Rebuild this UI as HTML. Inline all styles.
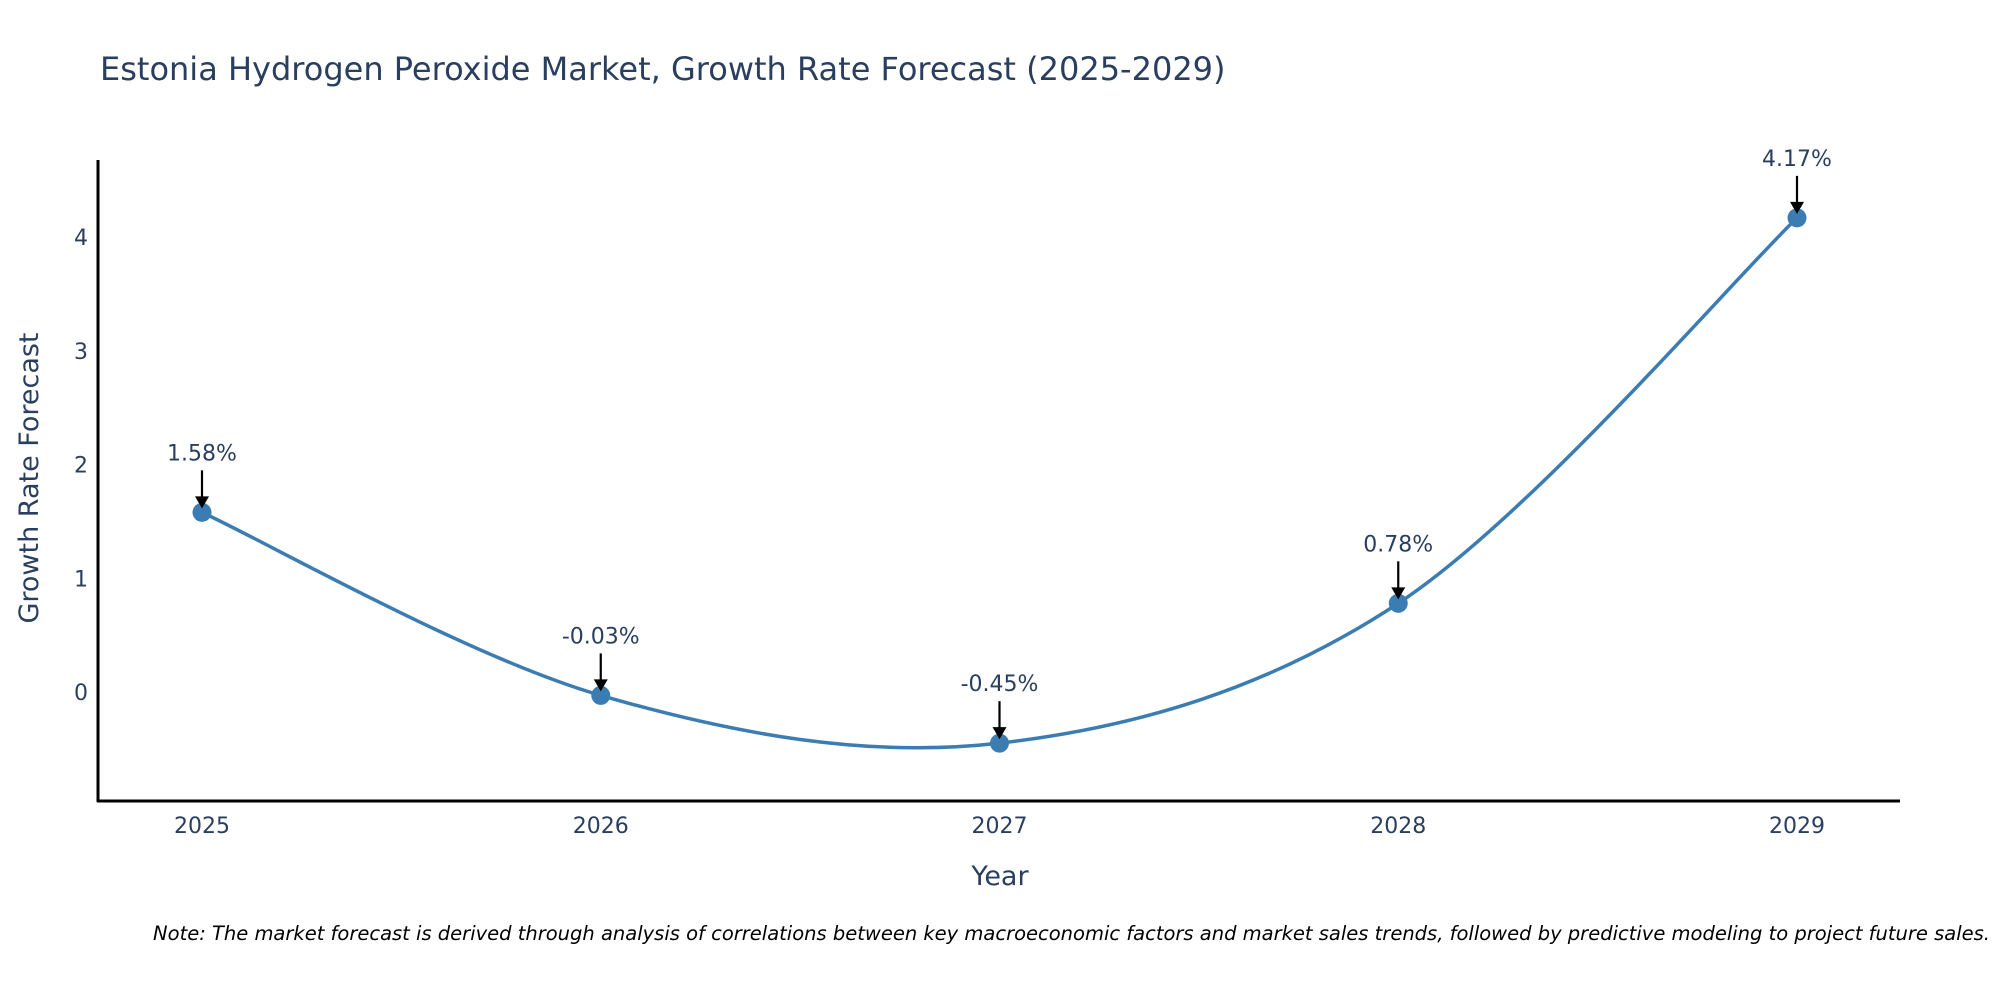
<!DOCTYPE html>
<html><head><meta charset="utf-8"><style>
body{margin:0;background:#fff}
svg text{font-family:"DejaVu Sans","Liberation Sans",sans-serif;fill:#2a3f5f}
</style></head><body>
<svg id="chart" width="2000" height="1000" xmlns="http://www.w3.org/2000/svg">
<text x="100" y="80" font-size="32">Estonia Hydrogen Peroxide Market, Growth Rate Forecast (2025-2029)</text>
<g id="yticks"></g>
<g id="xticks"></g>
<line x1="98" y1="160" x2="98" y2="802" stroke="#000" stroke-width="3"/>
<line x1="97" y1="801" x2="1900" y2="801" stroke="#000" stroke-width="3"/>
<path id="line" fill="none" stroke="#3b7db3" stroke-width="3.5"/>
<g id="marks"></g>
<text transform="translate(38,478) rotate(-90)" text-anchor="middle" font-size="27">Growth Rate Forecast</text>
<text x="1000" y="885" text-anchor="middle" font-size="27">Year</text>
<text x="1990" y="940" text-anchor="end" font-size="19.5" font-style="italic" style="fill:#000">Note: The market forecast is derived through analysis of correlations between key macroeconomic factors and market sales trends, followed by predictive modeling to project future sales.</text>
</svg>
<script>
const years=[2025,2026,2027,2028,2029];
const values=[1.58,-0.03,-0.45,0.78,4.17];
const labels=["1.58%","-0.03%","-0.45%","0.78%","4.17%"];
const yTicks=[0,1,2,3,4];
const NS="http://www.w3.org/2000/svg";
const x=v=>202+(v-2025)*398.75;
const y=v=>692-v*113.7;
function mk(t,a,p){const e=document.createElementNS(NS,t);for(const k in a)e.setAttribute(k,a[k]);p.appendChild(e);return e;}
const yt=document.getElementById('yticks'),xt=document.getElementById('xticks'),mg=document.getElementById('marks');
yTicks.forEach(t=>{const e=mk('text',{x:88,y:y(t)+8,'text-anchor':'end','font-size':22},yt);e.textContent=t;

});
years.forEach(t=>{const e=mk('text',{x:x(t),y:833,'text-anchor':'middle','font-size':22},xt);e.textContent=t;

});
const P=years.map((yr,i)=>[x(yr),y(values[i])]);
let d=`M${P[0][0]},${P[0][1]}`;
for(let i=0;i<P.length-1;i++){const p0=P[i-1]||P[i],p1=P[i],p2=P[i+1],p3=P[i+2]||P[i+1];
const c1=[p1[0]+(p2[0]-p0[0])/6,p1[1]+(p2[1]-p0[1])/6],c2=[p2[0]-(p3[0]-p1[0])/6,p2[1]-(p3[1]-p1[1])/6];
d+=` C${c1[0]},${c1[1]} ${c2[0]},${c2[1]} ${p2[0]},${p2[1]}`;}
document.getElementById('line').setAttribute('d',d);
P.forEach((p,i)=>{
const c=mk('circle',{cx:p[0],cy:p[1],r:9.5,fill:'#3b7db3'},mg);


const l=mk('line',{x1:p[0],y1:p[1]-42,x2:p[0],y2:p[1]-14,stroke:'#000','stroke-width':2.2},mg);


const a=mk('path',{d:`M${p[0]-7},${p[1]-16} L${p[0]+7},${p[1]-16} L${p[0]},${p[1]-4} Z`,fill:'#000'},mg);


const t=mk('text',{x:p[0],y:p[1]-52,'text-anchor':'middle','font-size':22},mg);t.textContent=labels[i];


});
</script>
</body></html>
